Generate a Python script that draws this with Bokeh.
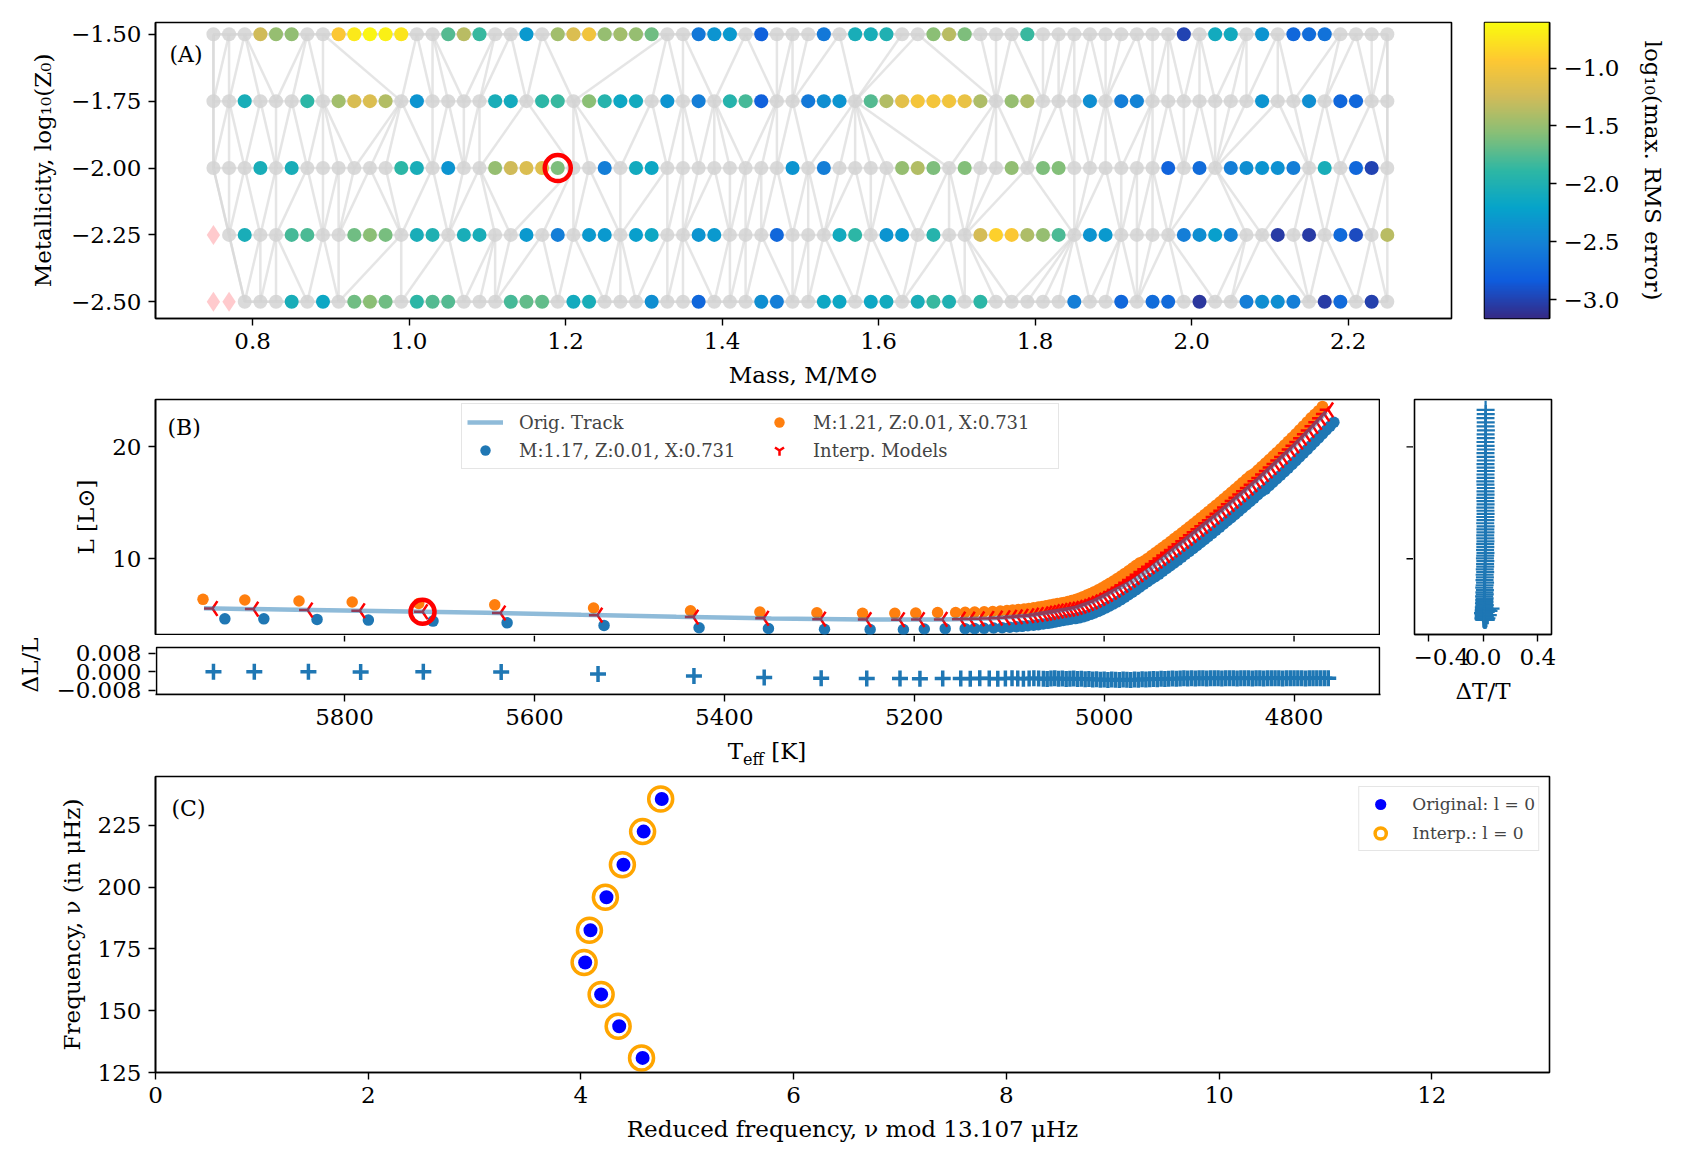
import numpy as np
from bokeh.plotting import figure
from bokeh.layouts import column, row
from bokeh.models import (Range1d, FixedTicker, Label, Legend, LegendItem,
                          LinearColorMapper, ColumnDataSource, Div, Spacer)
from bokeh.embed import file_html
from bokeh.resources import INLINE

FONT = "DejaVu Serif"
TAB_BLUE = "#1f77b4"
TAB_ORANGE = "#ff7f0e"

# ---------------------------------------------------------------- (A) grid
mass_grid = [0.75, 0.77, 0.79, 0.81, 0.83, 0.85, 0.87, 0.89, 0.91, 0.93,
             0.95, 0.97, 0.99, 1.01, 1.03, 1.05, 1.07, 1.09, 1.11, 1.13,
             1.15, 1.17, 1.19, 1.21, 1.23, 1.25, 1.27, 1.29, 1.31, 1.33,
             1.35, 1.37, 1.39, 1.41, 1.43, 1.45, 1.47, 1.49, 1.51, 1.53,
             1.55, 1.57, 1.59, 1.61, 1.63, 1.65, 1.67, 1.69, 1.71, 1.73,
             1.75, 1.77, 1.79, 1.81, 1.83, 1.85, 1.87, 1.89, 1.91, 1.93,
             1.95, 1.97, 1.99, 2.01, 2.03, 2.05, 2.07, 2.09, 2.11, 2.13,
             2.15, 2.17, 2.19, 2.21, 2.23, 2.25]
log_z0 = [-1.5, -1.75, -2.0, -2.25, -2.5]

G = None      # track kept in the triangulation
F = "fail"    # test track outside the convex hull

# log10(max. RMS error) of each left-out track, one list per metallicity
rms_z150 = [G, G, G, -1.25, -1.50, -1.52, G, G, -0.95, -0.72,
            -0.65, -0.68, -0.75, G, G, -1.75, -1.35, -1.85, G, G,
            -2.30, G, -1.45, -1.18, -1.02, -1.50, -1.45, -1.50, -1.65, G,
            G, -2.60, -2.35, -2.30, G, -2.80, G, G, G, -2.60,
            G, -2.05, -2.05, -2.00, G, G, -1.55, -1.35, -1.60, G,
            G, G, -1.85, G, G, G, G, G, G, G,
            G, G, -3.00, G, -2.10, -2.10, G, -2.35, G, -2.75,
            -2.70, -2.65, G, G, G, G]
rms_z175 = [G, G, -2.05, G, G, G, -1.90, G, -1.45, -1.20,
            -1.18, -1.38, G, -2.35, G, G, G, G, -2.05, -2.10,
            G, -1.90, -1.85, G, -1.55, -1.95, -2.15, -2.10, G, -2.35,
            G, -2.55, G, -1.95, -1.80, -2.80, G, G, -2.60, -2.40,
            -2.35, G, -1.75, -1.38, -1.12, -1.00, -1.00, -1.02, -1.08, -1.40,
            G, -1.50, -1.40, G, G, G, -2.40, G, -2.55, -2.50,
            G, G, G, G, G, G, G, -2.35, G, G,
            -2.40, G, -2.75, -2.75, G, G]
rms_z200 = [G, G, G, -2.05, G, -2.05, G, G, G, G,
            G, G, -1.90, -2.05, G, -2.35, G, G, -1.50, -1.25,
            -1.18, -1.15, -1.60, G, G, -2.55, G, -2.10, -2.15, G,
            G, G, G, G, G, G, G, -2.35, G, -2.55,
            G, G, G, G, -1.50, -1.38, -1.60, G, -1.58, G,
            G, -1.52, G, -1.60, -1.58, G, G, G, G, G,
            G, -2.78, G, -2.70, G, -2.55, -2.40, -2.35, -2.38, -2.55,
            G, -2.05, G, -2.75, -3.00, G]
rms_z225 = [F, G, -2.05, G, G, -1.80, -1.78, G, G, -1.65,
            -1.55, -1.62, G, -2.05, -2.00, G, -2.05, -2.05, G, G,
            -2.30, G, -2.55, G, -2.30, -2.30, G, -2.25, -2.15, G,
            G, -2.35, -2.30, G, G, G, -2.75, G, G, G,
            -2.10, -1.90, G, -2.35, -2.30, G, -1.95, G, G, -1.22,
            -0.88, -0.95, -1.40, -1.50, -1.78, G, -2.35, -2.30, G, G,
            G, G, -2.55, -2.40, -2.25, -2.50, G, G, -3.05, G,
            -3.05, G, -2.72, -2.95, G, -1.35]
rms_z250 = [F, F, G, G, G, -2.05, G, -2.15, G, -1.65,
            -1.55, -1.65, G, -1.90, -1.75, -1.75, G, G, G, -1.80,
            -1.70, -1.70, G, -2.10, -2.05, G, G, G, -2.40, G,
            G, -2.75, G, G, G, -2.40, -2.55, G, G, -2.15,
            -2.15, G, -2.15, -2.10, G, -2.05, -1.85, -2.00, G, -1.90,
            G, G, G, G, G, -2.55, G, G, -2.75, G,
            -2.70, -2.72, G, -3.08, G, G, -2.55, -2.40, -2.40, -2.55,
            G, -3.05, -2.72, G, -3.02, G]
rms_rows = [rms_z150, rms_z175, rms_z200, rms_z225, rms_z250]

target_mass = 1.19
target_logz = -2.0

RMS_LOW, RMS_HIGH = -3.164, -0.606

# ---------------------------------------------------------------- (B) tracks
teff_interp = [5938, 5895, 5838, 5783, 5717, 5635, 5533, 5432, 5358, 5298, 5250, 5215, 5194, 5170,
               5151, 5141, 5131, 5121, 5112, 5104, 5097, 5091, 5085, 5079, 5074, 5069, 5064, 5060,
               5056, 5052, 5048, 5044, 5040,
               5036, 5032, 5028, 5024, 5020, 5016, 5012, 5008, 5004, 5000,
               4996, 4992, 4988, 4984, 4980, 4976, 4972, 4968, 4964, 4960,
               4956, 4952, 4948, 4944, 4940, 4936, 4932, 4928, 4924, 4920,
               4916, 4912, 4908, 4904, 4900, 4896, 4892, 4888, 4884, 4880,
               4876, 4872, 4868, 4864, 4860, 4856, 4852, 4848, 4844, 4840,
               4836, 4832, 4828, 4824, 4820, 4816, 4812, 4808, 4804, 4800,
               4796, 4792, 4788, 4784, 4780, 4776, 4772, 4768, 4764]
lum_interp = [5.55, 5.50, 5.42, 5.35, 5.26, 5.15, 4.96, 4.79, 4.68, 4.60, 4.56, 4.55, 4.56, 4.58,
              4.60, 4.61, 4.63, 4.66, 4.69, 4.73, 4.77, 4.81, 4.86, 4.91, 4.96, 5.02, 5.08, 5.14,
              5.20, 5.27, 5.33, 5.39, 5.45,
              5.50, 5.57, 5.66, 5.76, 5.88, 6.01, 6.15, 6.30, 6.46, 6.63,
              6.81, 7.00, 7.20, 7.41, 7.63, 7.86, 8.09, 8.33, 8.57, 8.81,
              9.05, 9.29, 9.53, 9.78, 10.03, 10.28, 10.53, 10.78, 11.04, 11.30,
              11.56, 11.82, 12.09, 12.36, 12.63, 12.90, 13.17, 13.45, 13.73, 14.01,
              14.29, 14.57, 14.86, 15.15, 15.44, 15.73, 16.02, 16.32, 16.62, 16.92,
              17.22, 17.53, 17.84, 18.15, 18.46, 18.78, 19.10, 19.43, 19.76, 20.09,
              20.43, 20.77, 21.12, 21.47, 21.83, 22.19, 22.56, 22.93, 23.31]

teff_m117 = [5925, 5884, 5828, 5774, 5706, 5628, 5526, 5426, 5353, 5294, 5246, 5211, 5189, 5167,
             5146, 5136, 5126, 5116, 5107, 5099, 5092, 5086, 5080, 5074, 5069, 5064, 5059, 5055,
             5051, 5047, 5043, 5039, 5035,
             5030, 5026, 5022, 5018, 5014, 5010, 5006, 5002, 4998, 4994,
             4990, 4986, 4982, 4978, 4974, 4970, 4966, 4962, 4958, 4954,
             4950, 4946, 4942, 4938, 4934, 4930, 4926, 4922, 4918, 4914,
             4910, 4906, 4902, 4898, 4894, 4890, 4886, 4882, 4878, 4874,
             4870, 4866, 4862, 4858, 4854, 4850, 4846, 4842, 4838, 4834,
             4830, 4826, 4822, 4818, 4814, 4810, 4806, 4802, 4798, 4794,
             4790, 4786, 4782, 4778, 4774, 4770, 4766, 4762, 4758]
lum_m117 = [4.63, 4.63, 4.58, 4.52, 4.43, 4.27, 4.04, 3.83, 3.77, 3.70, 3.68, 3.68, 3.72, 3.75,
            3.75, 3.76, 3.78, 3.81, 3.84, 3.88, 3.92, 3.96, 4.01, 4.06, 4.11, 4.17, 4.23, 4.29,
            4.35, 4.42, 4.48, 4.54, 4.60,
            4.65, 4.72, 4.81, 4.91, 5.03, 5.16, 5.30, 5.45, 5.61, 5.78,
            5.96, 6.15, 6.35, 6.56, 6.78, 7.01, 7.24, 7.48, 7.72, 7.96,
            8.20, 8.39, 8.63, 8.88, 9.13, 9.38, 9.63, 9.88, 10.14, 10.40,
            10.66, 10.92, 11.19, 11.46, 11.73, 12.00, 12.27, 12.55, 12.83, 13.11,
            13.39, 13.67, 13.96, 14.25, 14.54, 14.83, 15.12, 15.42, 15.72, 16.02,
            16.22, 16.53, 16.84, 17.15, 17.46, 17.78, 18.10, 18.43, 18.76, 19.09,
            19.43, 19.77, 20.12, 20.47, 20.80, 21.15, 21.50, 21.85, 22.20]

teff_m121 = [5948, 5904, 5847, 5791, 5721, 5641, 5537, 5435, 5362, 5302, 5254, 5220, 5198, 5175,
             5156, 5146, 5136, 5126, 5117, 5109, 5102, 5096, 5090, 5084, 5079, 5074, 5069, 5065,
             5061, 5057, 5053, 5049, 5045,
             5042, 5038, 5034, 5030, 5026, 5022, 5018, 5014, 5010, 5006,
             5002, 4998, 4994, 4990, 4986, 4982, 4978, 4974, 4970, 4966,
             4962, 4958, 4954, 4950, 4946, 4942, 4938, 4934, 4930, 4926,
             4922, 4918, 4914, 4910, 4906, 4902, 4898, 4894, 4890, 4886,
             4882, 4878, 4874, 4870, 4866, 4862, 4858, 4854, 4850, 4846,
             4842, 4838, 4834, 4830, 4826, 4822, 4818, 4814, 4810, 4806,
             4802, 4798, 4794, 4790, 4786, 4782, 4778, 4774, 4770]
lum_m121 = [6.37, 6.31, 6.22, 6.13, 6.00, 5.88, 5.60, 5.35, 5.23, 5.17, 5.12, 5.12, 5.15, 5.20,
            5.20, 5.21, 5.23, 5.26, 5.29, 5.33, 5.37, 5.41, 5.46, 5.51, 5.56, 5.62, 5.68, 5.74,
            5.80, 5.87, 5.93, 5.99, 6.05,
            6.10, 6.17, 6.26, 6.36, 6.48, 6.61, 6.75, 6.90, 7.06, 7.23,
            7.41, 7.60, 7.80, 8.01, 8.23, 8.46, 8.69, 8.93, 9.17, 9.41,
            9.65, 9.79, 10.03, 10.28, 10.53, 10.78, 11.03, 11.28, 11.54, 11.80,
            12.06, 12.32, 12.59, 12.86, 13.13, 13.40, 13.67, 13.95, 14.23, 14.51,
            14.79, 15.07, 15.36, 15.65, 15.94, 16.23, 16.52, 16.82, 17.12, 17.42,
            17.62, 17.93, 18.24, 18.55, 18.86, 19.18, 19.50, 19.83, 20.16, 20.49,
            20.83, 21.17, 21.52, 21.87, 22.23, 22.59, 22.91, 23.23, 23.61]

teff_orig = [5947, 5850, 5750, 5650, 5550, 5450, 5350, 5250, 5170, 5120, 5080, 5050,
             5030, 5010, 4990, 4970, 4950, 4920, 4880, 4840, 4800, 4780, 4766]
lum_orig = [5.57, 5.44, 5.31, 5.17, 4.99, 4.82, 4.67, 4.56, 4.58, 4.66, 4.91, 5.30,
            5.61, 6.22, 7.10, 7.97, 9.17, 11.30, 14.01, 16.92, 20.09, 21.83, 23.12]

# relative residuals of the interpolated models
dlum_rel = [0.0000, 0.0000, 0.0000, -0.0001, 0.0000, -0.0002, -0.0010, -0.0019, -0.0025, -0.0029,
            -0.0030, -0.0030, -0.0031, -0.0030,
            -0.0030, -0.0031, -0.0029, -0.0030, -0.0031, -0.0030, -0.0029, -0.0030, -0.0031, -0.0030,
            -0.0029, -0.0030, -0.0031, -0.0032, -0.0030, -0.0029, -0.0031, -0.0030, -0.0032,
            -0.0031, -0.0030, -0.0032, -0.0031, -0.0033, -0.0032, -0.0034, -0.0033, -0.0035, -0.0034,
            -0.0036, -0.0034, -0.0035, -0.0036, -0.0034, -0.0035, -0.0036, -0.0034, -0.0035, -0.0033,
            -0.0034, -0.0033, -0.0032, -0.0033, -0.0031, -0.0032, -0.0031, -0.0030, -0.0031, -0.0030,
            -0.0029, -0.0030, -0.0029, -0.0030, -0.0028, -0.0029, -0.0030, -0.0029, -0.0028, -0.0029,
            -0.0030, -0.0029, -0.0028, -0.0029, -0.0030, -0.0029, -0.0028, -0.0029, -0.0030, -0.0028,
            -0.0029, -0.0030, -0.0028, -0.0029, -0.0028, -0.0029, -0.0030, -0.0028, -0.0029, -0.0028,
            -0.0029, -0.0028, -0.0030, -0.0029, -0.0028, -0.0029, -0.0028, -0.0029, -0.0028]
dteff_rel = [0.055, 0.030, 0.012, 0.040, 0.020, 0.000, 0.035, 0.010, 0.025, 0.015,
             0.020, 0.010, 0.018, 0.012,
             0.010, 0.005, 0.012, 0.008, 0.004, 0.010, 0.006, 0.012, 0.008, 0.005,
             0.010, 0.007, 0.004, 0.009, 0.006, 0.011, 0.008, 0.005, 0.010,
             0.008, 0.012, 0.006, 0.010, 0.013, 0.007, 0.011, 0.009, 0.012, 0.008,
             0.013, 0.010, 0.014, 0.009, 0.012, 0.015, 0.011, 0.014, 0.012, 0.016,
             0.013, 0.016, 0.015, 0.017, 0.014, 0.016, 0.018, 0.015, 0.017, 0.016,
             0.018, 0.017, 0.016, 0.018, 0.017, 0.019, 0.016, 0.018, 0.017, 0.019,
             0.018, 0.017, 0.019, 0.018, 0.017, 0.019, 0.018, 0.020, 0.018, 0.017,
             0.019, 0.018, 0.020, 0.019, 0.018, 0.020, 0.019, 0.018, 0.020, 0.019,
             0.018, 0.020, 0.019, 0.021, 0.019, 0.020, 0.018, 0.020, 0.019]

# ---------------------------------------------------------------- (C) echelle
nu_orig = [130.9, 143.7, 156.6, 169.5, 182.6, 195.9, 209.1, 222.5, 235.7]
nu_mod_orig = [4.58, 4.36, 4.19, 4.04, 4.09, 4.24, 4.40, 4.59, 4.76]
nu_interp = [130.9, 143.7, 156.6, 169.5, 182.6, 195.9, 209.1, 222.5, 235.7]
nu_mod_interp = [4.57, 4.35, 4.19, 4.03, 4.08, 4.23, 4.39, 4.58, 4.75]
DELTA_NU = 13.107

for seq in (teff_m117, lum_m117, teff_m121, lum_m121, lum_interp, dlum_rel, dteff_rel):
    assert len(seq) == len(teff_interp), len(seq)
for r in rms_rows:
    assert len(r) == len(mass_grid)


# ---------------------------------------------------------------- helpers
def parula_like(n=256):
    anchors = [(0.0, "#352a87"), (0.125, "#0f5cdd"), (0.25, "#1481d6"),
               (0.375, "#06a4ca"), (0.5, "#2eb7a4"), (0.625, "#87bf77"),
               (0.75, "#d1bb59"), (0.875, "#fec832"), (1.0, "#f9fb0e")]
    ts = [a for a, _ in anchors]
    rgb = np.array([[int(h[i:i + 2], 16) for i in (1, 3, 5)] for _, h in anchors], float)
    out = []
    for t in np.linspace(0, 1, n):
        c = [int(round(np.interp(t, ts, rgb[:, k]))) for k in range(3)]
        out.append("#%02x%02x%02x" % tuple(c))
    return out


def signed(v, nd):
    s = f"{abs(v):.{nd}f}"
    return "\u2212" + s if v < 0 else s


def set_ticks(axis, values, nd):
    axis.ticker = FixedTicker(ticks=values)
    axis.major_label_overrides = {v: signed(v, nd) for v in values}


def style(p):
    p.grid.visible = False
    p.outline_line_color = "black"
    p.outline_line_width = 1.6
    p.background_fill_color = "white"
    p.border_fill_color = "white"
    for ax in p.axis:
        ax.axis_line_width = 1.6
        ax.axis_line_color = "black"
        ax.major_tick_in = 0
        ax.major_tick_out = 7
        ax.major_tick_line_width = 1.4
        ax.major_tick_line_color = "black"
        ax.minor_tick_line_color = None
        ax.major_label_text_font = FONT
        ax.major_label_text_font_size = "23px"
        ax.major_label_text_color = "black"
        ax.major_label_standoff = 7
        ax.axis_label_text_font = FONT
        ax.axis_label_text_font_size = "23px"
        ax.axis_label_text_font_style = "normal"
        ax.axis_label_text_color = "black"
        ax.axis_label_standoff = 10


def panel_tag(p, text, x, y):
    p.add_layout(Label(x=x, y=y, x_units="screen", y_units="screen", text=text,
                       text_font=FONT, text_font_size="22px", text_baseline="top",
                       text_align="left", text_color="black"))


common = dict(output_backend="svg", toolbar_location=None)
mapper = LinearColorMapper(palette=parula_like(), low=RMS_LOW, high=RMS_HIGH)

# ---------------------------------------------------------------- panel A
pA = figure(width=1470, height=394, x_range=Range1d(0.676, 2.332),
            y_range=Range1d(-2.5625, -1.456), min_border_left=155, min_border_right=19,
            min_border_top=22, min_border_bottom=76, **common)

node_idx = [[k for k, v in enumerate(r) if v is None] for r in rms_rows]
edge_xs, edge_ys = [], []
for z, nodes in zip(log_z0, node_idx):
    for a, b in zip(nodes[:-1], nodes[1:]):
        edge_xs.append([mass_grid[a], mass_grid[b]])
        edge_ys.append([z, z])
# Delaunay triangulation of each strip between two neighbouring rows
for zt, top, zb, bot in zip(log_z0[:-1], node_idx[:-1], log_z0[1:], node_idx[1:]):
    i = j = 0
    edge_xs.append([mass_grid[top[0]], mass_grid[bot[0]]])
    edge_ys.append([zt, zb])
    while i < len(top) - 1 or j < len(bot) - 1:
        if j == len(bot) - 1 or (i < len(top) - 1 and top[i] + top[i + 1] <= bot[j] + bot[j + 1]):
            i += 1
        else:
            j += 1
        edge_xs.append([mass_grid[top[i]], mass_grid[bot[j]]])
        edge_ys.append([zt, zb])
# convex hull closes the outer triangles
pts = sorted({(k, zi) for zi, nodes in enumerate(node_idx) for k in nodes})


def cross(o, a, b):
    return (a[0] - o[0]) * (b[1] - o[1]) - (a[1] - o[1]) * (b[0] - o[0])


def half(points):
    h = []
    for pnt in points:
        while len(h) >= 2 and cross(h[-2], h[-1], pnt) <= 0:
            h.pop()
        h.append(pnt)
    return h


hull = half(pts)[:-1] + half(pts[::-1])[:-1]
for a, b in zip(hull, hull[1:] + hull[:1]):
    edge_xs.append([mass_grid[a[0]], mass_grid[b[0]]])
    edge_ys.append([log_z0[a[1]], log_z0[b[1]]])

node_m = [mass_grid[k] for z, nodes in zip(log_z0, node_idx) for k in nodes]
node_z = [z for z, nodes in zip(log_z0, node_idx) for k in nodes]
pA.scatter(node_m, node_z, size=14, fill_color="#d3d3d3", fill_alpha=0.85, line_color=None)
pA.multi_line(edge_xs, edge_ys, line_color="#d3d3d3", line_alpha=0.6, line_width=2.5)

col_m, col_z, col_v, fail_m, fail_z = [], [], [], [], []
for z, r in zip(log_z0, rms_rows):
    for m, v in zip(mass_grid, r):
        if v is None:
            continue
        if v == F:
            fail_m.append(m)
            fail_z.append(z)
        else:
            col_m.append(m)
            col_z.append(z)
            col_v.append(v)
srcA = ColumnDataSource(dict(m=col_m, z=col_z, v=col_v))
pA.scatter("m", "z", source=srcA, size=14, line_color=None,
           fill_color={"field": "v", "transform": mapper})
pA.scatter(fail_m, fail_z, marker="diamond", size=20, fill_color="#ffc4c8",
           fill_alpha=0.9, line_color=None)
pA.scatter([target_mass], [target_logz], size=26, fill_color=None, line_color="red",
           line_width=4.5)
style(pA)
set_ticks(pA.xaxis, [0.8, 1.0, 1.2, 1.4, 1.6, 1.8, 2.0, 2.2], 1)
set_ticks(pA.yaxis, [-2.5, -2.25, -2.0, -1.75, -1.5], 2)
pA.xaxis.axis_label = "Mass, M/M\u2299"
pA.yaxis.axis_label = "Metallicity, log\u2081\u2080(Z\u2080)"
pA.yaxis.axis_label_standoff = 12
panel_tag(pA, "(A)", 14, 277)

# colour bar
pCB = figure(width=212, height=394, x_range=Range1d(0, 1),
             y_range=Range1d(RMS_LOW, RMS_HIGH), x_axis_location=None,
             y_axis_location="right", min_border_left=14, min_border_right=133,
             min_border_top=22, min_border_bottom=76, **common)
pCB.image(image=[np.linspace(RMS_LOW, RMS_HIGH, 400).reshape(-1, 1)], x=0, y=RMS_LOW,
          dw=1, dh=RMS_HIGH - RMS_LOW, color_mapper=mapper)
style(pCB)
set_ticks(pCB.yaxis, [-3.0, -2.5, -2.0, -1.5, -1.0], 1)
pCB.yaxis.axis_label = "log\u2081\u2080(max. RMS error)"
pCB.yaxis.axis_label_standoff = 18

# ---------------------------------------------------------------- panel B
TEFF_TICKS = [5800, 5600, 5400, 5200, 5000, 4800]
teff_range = Range1d(5998, 4710)
FRAME_B_PX = 1224                      # plot-area width of panel B in pixels
K_PER_PX = (teff_range.start - teff_range.end) / FRAME_B_PX

pB = figure(width=1380, height=241, x_range=teff_range, y_range=Range1d(3.23, 24.23),
            x_axis_location=None, min_border_left=155, min_border_right=1,
            min_border_top=5, min_border_bottom=1, **common)
r_m117 = pB.scatter(teff_m117, lum_m117, size=11.5, fill_color=TAB_BLUE, line_color=None)
r_m121 = pB.scatter(teff_m121, lum_m121, size=11.5, fill_color=TAB_ORANGE, line_color=None)
r_int = pB.scatter(teff_interp, lum_interp, marker="y", angle=-np.pi / 2, size=17,
                   line_color="red", line_width=2.5)
r_orig = pB.line(teff_orig, lum_orig, line_color=TAB_BLUE, line_alpha=0.5, line_width=4.5)
pB.scatter([teff_interp[4]], [lum_interp[4]], size=24, fill_color=None, line_color="red",
           line_width=4.5)
style(pB)
pB.yaxis.ticker = FixedTicker(ticks=[10, 20])
pB.yaxis.axis_label = "L [L\u2299]"
panel_tag(pB, "(B)", 12, 220)
legB = Legend(items=[LegendItem(label="Orig. Track", renderers=[r_orig]),
                     LegendItem(label="M:1.17, Z:0.01, X:0.731", renderers=[r_m117]),
                     LegendItem(label="M:1.21, Z:0.01, X:0.731", renderers=[r_m121]),
                     LegendItem(label="Interp. Models", renderers=[r_int])],
              location=(306, 165), ncols=2, orientation="vertical",
              label_text_font=FONT, label_text_font_size="18px", label_height=22,
              glyph_height=26, glyph_width=36, label_standoff=16, label_width=240,
              padding=5, spacing=2, margin=0, border_line_color="#cccccc",
              border_line_width=1.2, background_fill_alpha=0.8)
pB.add_layout(legB)

# residuals in luminosity; its plot area reaches up to the panel above so the
# temperature ticks of the main panel and the residual box share one canvas
RES_LO, RES_HI = -0.00987, 0.01044
RES_PX = (RES_HI - RES_LO) / 47        # residual units per pixel
RES_TOP = RES_LO + 59 * RES_PX
pR = figure(width=1381, height=101,
            x_range=Range1d(teff_range.start + K_PER_PX, teff_range.end - K_PER_PX),
            y_range=Range1d(RES_LO, RES_TOP), min_border_left=154, min_border_right=1,
            min_border_top=0, min_border_bottom=42, **common)
pR.quad(left=[teff_range.start], right=[teff_range.end], top=[RES_HI], bottom=[RES_LO],
        fill_color=None, line_color="black", line_width=1.6)
pR.segment(x0=TEFF_TICKS, y0=[RES_TOP] * len(TEFF_TICKS), x1=TEFF_TICKS,
           y1=[RES_TOP - 6 * RES_PX] * len(TEFF_TICKS), line_color="black", line_width=1.4)
pR.scatter(teff_interp, dlum_rel, marker="cross", size=16, line_color=TAB_BLUE,
           line_width=3.5)
style(pR)
pR.outline_line_color = None
pR.yaxis.axis_line_color = None
set_ticks(pR.xaxis, TEFF_TICKS, 0)
set_ticks(pR.yaxis, [-0.008, 0.0, 0.008], 3)
pR.yaxis.axis_label = "\u0394L/L"

teff_title = Div(text='T<sub style="font-size:16px">eff</sub> [K]', width=FRAME_B_PX, height=34,
                 margin=0, styles={"font-family": FONT, "font-size": "23px",
                                   "text-align": "center", "color": "black",
                                   "line-height": "30px"})
teff_row = row(Spacer(width=155, height=34), teff_title, Spacer(width=1, height=34))

# tick marks on the left edge of the temperature-residual panel
pTk = figure(width=32, height=376, x_range=Range1d(0, 32), y_range=pB.y_range,
             x_axis_location=None, y_axis_location=None, min_border_left=0,
             min_border_right=0, min_border_top=5, min_border_bottom=136, **common)
pTk.grid.visible = False
pTk.outline_line_color = None
pTk.segment(x0=[25, 25], y0=[10, 20], x1=[32, 32], y1=[10, 20], line_color="black",
            line_width=1.4)

# residuals in temperature
pS = figure(width=270, height=376, x_range=Range1d(-0.5, 0.5), y_range=pB.y_range,
            y_axis_location=None, min_border_left=1, min_border_right=132, min_border_top=5,
            min_border_bottom=136, **common)
pS.scatter(dteff_rel, lum_interp, marker="cross", size=18, line_color=TAB_BLUE,
           line_width=2.2)
style(pS)
set_ticks(pS.xaxis, [-0.4, 0.0, 0.4], 1)
pS.xaxis.axis_label = "\u0394T/T"

# ---------------------------------------------------------------- panel C
pC = figure(width=1682, height=392, x_range=Range1d(0, DELTA_NU), y_range=Range1d(125, 244.8),
            min_border_left=155, min_border_right=133, min_border_top=6,
            min_border_bottom=90, **common)
rC_orig = pC.scatter(nu_mod_orig, nu_orig, size=14, fill_color="blue", line_color=None)
rC_int = pC.scatter(nu_mod_interp, nu_interp, size=24, fill_color=None, line_color="orange",
                    line_width=3.5)
style(pC)
set_ticks(pC.xaxis, [0, 2, 4, 6, 8, 10, 12], 0)
set_ticks(pC.yaxis, [125, 150, 175, 200, 225], 0)
pC.xaxis.axis_label = "Reduced frequency, \u03bd mod 13.107 \u03bcHz"
pC.yaxis.axis_label = "Frequency, \u03bd (in \u03bcHz)"
panel_tag(pC, "(C)", 16, 277)
legC = Legend(items=[LegendItem(label="Original: l = 0", renderers=[rC_orig]),
                     LegendItem(label="Interp.: l = 0", renderers=[rC_int])],
              location="top_right", margin=10, label_text_font=FONT,
              label_text_font_size="17px", label_height=22, glyph_height=28,
              glyph_width=36, label_standoff=14, padding=3, spacing=1,
              border_line_color="#cccccc", border_line_width=1.2, background_fill_alpha=0.8)
pC.add_layout(legC)

layout = column(row(pA, pCB),
                row(column(pB, pR, teff_row), pTk, pS),
                pC)
open("out.html", "w").write(file_html(layout, INLINE))
